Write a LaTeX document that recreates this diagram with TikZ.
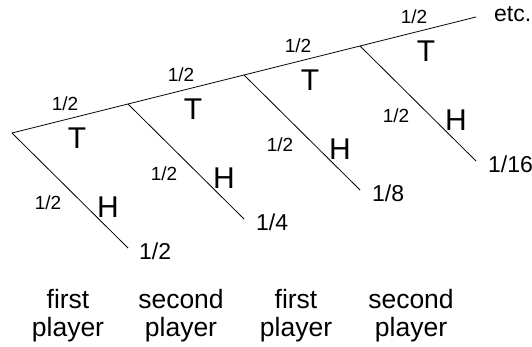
\documentclass[tikz,border=0pt]{standalone}
\usepackage{fontspec}
\setmainfont{Liberation Sans}
\begin{document}
\begin{tikzpicture}[x=1pt, y=-1pt, every node/.style={inner sep=0pt},
    prob/.style={font=\fontsize{19}{19}\selectfont},
    side/.style={font=\fontsize{30}{30}\selectfont},
    result/.style={anchor=west, font=\fontsize{23}{23}\selectfont},
    turn/.style={align=center, font=\fontsize{26.5}{28}\selectfont},
    branch/.style={line width=0.8pt}]
    \useasboundingbox (0,0) rectangle (532,347);

    % Tails spine
    \coordinate (t0) at (12,133);
    \coordinate (t1) at (128,104);
    \coordinate (t2) at (244,75);
    \coordinate (t3) at (360,46);
    \coordinate (t4) at (476,17);
    \draw[branch] (t0) -- (t1) -- (t2) -- (t3) -- (t4);
    \node[result] (etc) at (494,14) {etc.};

    % Heads branches
    \coordinate (h1) at (128,248);
    \coordinate (h2) at (244,219);
    \coordinate (h3) at (360,190);
    \coordinate (h4) at (476,161);
    \draw[branch] (t0) -- (h1);
    \draw[branch] (t1) -- (h2);
    \draw[branch] (t2) -- (h3);
    \draw[branch] (t3) -- (h4);

    % Labels on the tails spine
    \node[prob] (pt1) at (65,104) {1/2};
    \node[side] (st1) at (77,138) {T};
    \node[prob] (pt2) at (181,75) {1/2};
    \node[side] (st2) at (193,109) {T};
    \node[prob] (pt3) at (298,46) {1/2};
    \node[side] (st3) at (310,80) {T};
    \node[prob] (pt4) at (414,17) {1/2};
    \node[side] (st4) at (426,51) {T};

    % Labels on the heads branches
    \node[prob] (ph1) at (48,203) {1/2};
    \node[side] (sh1) at (108,207) {H};
    \node[prob] (ph2) at (164,174) {1/2};
    \node[side] (sh2) at (224,178) {H};
    \node[prob] (ph3) at (280,145) {1/2};
    \node[side] (sh3) at (340,149) {H};
    \node[prob] (ph4) at (396,116) {1/2};
    \node[side] (sh4) at (456,120) {H};

    % Winning chances
    \node[result] (r1) at (139,251) {1/2};
    \node[result] (r2) at (256,222) {1/4};
    \node[result] (r3) at (372,193) {1/8};
    \node[result] (r4) at (488,164) {1/16};

    % Whose turn
    \node[turn] (p1) at (68,316) {first\\player};
    \node[turn] (p2) at (181,316) {second\\player};
    \node[turn] (p3) at (296,316) {first\\player};
    \node[turn] (p4) at (411,316) {second\\player};
\end{tikzpicture}
\end{document}
